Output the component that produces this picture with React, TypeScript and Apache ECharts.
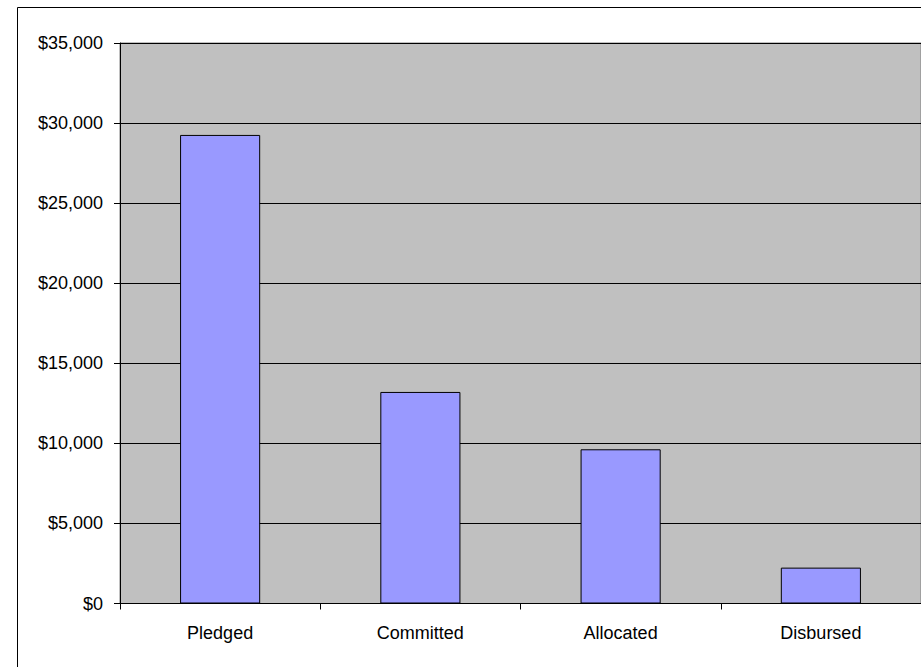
import React, { useEffect, useRef } from "react";
import * as echarts from "echarts";

const categories = ["Pledged", "Committed", "Allocated", "Disbursed"];
const amounts = [29260, 13210, 9630, 2240];

const fmt = (v: number) => "$" + v.toLocaleString("en-US");

export default function App() {
  const ref = useRef<HTMLDivElement>(null);
  useEffect(() => {
    if (!ref.current) return;
    const chart = echarts.init(ref.current, null, { renderer: "svg" });
    chart.setOption({
      animation: false,
      backgroundColor: "#ffffff",
      textStyle: { fontFamily: "Liberation Sans, Arial, sans-serif" },
      graphic: [
        {
          type: "rect",
          shape: { x: 17.5, y: 7.5, width: 1000, height: 1000 },
          style: { fill: "none", stroke: "#000", lineWidth: 1 },
          z: 100,
        },
      ],
      grid: {
        left: 120,
        top: 43,
        width: 802,
        height: 560.5,
        show: true,
        backgroundColor: "#c0c0c0",
        borderColor: "#808080",
        borderWidth: 1,
      },
      xAxis: {
        type: "category",
        data: categories,
        axisLine: { show: true, lineStyle: { color: "#000", width: 1 } },
        axisTick: { show: true, length: 6, lineStyle: { color: "#000" } },
        axisLabel: {
          color: "#000",
          fontSize: 18,
          margin: 20,
          fontFamily: "Liberation Sans, Arial, sans-serif",
        },
        splitLine: { show: false },
      },
      yAxis: {
        type: "value",
        min: 0,
        max: 35000,
        interval: 5000,
        axisLine: { show: true, lineStyle: { color: "#000", width: 1 } },
        axisTick: { show: true, length: 6, lineStyle: { color: "#000" } },
        axisLabel: {
          color: "#000",
          fontSize: 18,
          margin: 17,
          formatter: fmt,
          fontFamily: "Liberation Sans, Arial, sans-serif",
        },
        splitLine: { show: true, lineStyle: { color: "#000", width: 1 } },
      },
      series: [
        {
          type: "bar",
          data: amounts,
          barWidth: "40%",
          itemStyle: { color: "#9999ff", borderColor: "#000", borderWidth: 1 },
        },
      ],
    });
    return () => chart.dispose();
  }, []);
  return (
    <div
      ref={ref}
      style={{ position: "fixed", left: 0, top: 0, width: 921, height: 667 }}
    />
  );
}
